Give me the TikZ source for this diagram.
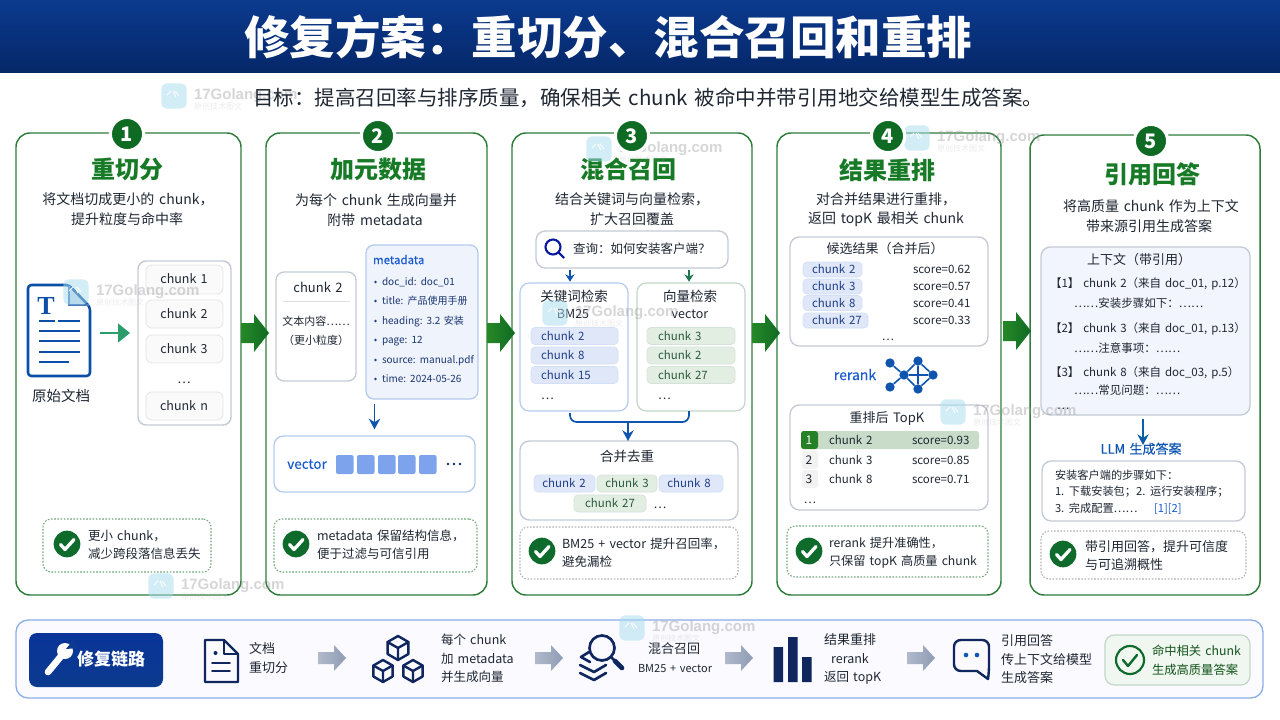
\documentclass[tikz,border=0pt]{standalone}
\usepackage{fontspec}
\setmainfont{Noto Sans CJK SC}[WordSpace=1.5]
\newfontfamily\medf{Noto Sans CJK SC}[FakeBold=0.12,WordSpace=1.5]
\newfontfamily\wmf{Liberation Sans}
\newfontfamily\srf{Liberation Serif}
\usetikzlibrary{arrows.meta,shapes.geometric}
\definecolor{navyT}{HTML}{0B3A8E}
\definecolor{navyB}{HTML}{052768}
\definecolor{cardg}{HTML}{2F7D3A}
\definecolor{titg}{HTML}{177A26}
\definecolor{badgeg}{HTML}{0F6B24}
\definecolor{chkg}{HTML}{0E6B2B}
\definecolor{ink}{HTML}{1F2733}
\definecolor{dotg}{HTML}{6FA67C}
\definecolor{gborder}{HTML}{C4CBD6}
\definecolor{bborder}{HTML}{B5CBEF}
\definecolor{gbord}{HTML}{C3D6C8}
\definecolor{bpill}{HTML}{DFE7F9}
\definecolor{gpill}{HTML}{E3EEE3}
\definecolor{btext}{HTML}{1F3F86}
\definecolor{gtext}{HTML}{2A5A3C}
\definecolor{blue1}{HTML}{0F55B0}
\definecolor{blue2}{HTML}{1A5BD0}
\definecolor{sq}{HTML}{7DA3EC}
\definecolor{meta}{HTML}{EFF3FC}
\definecolor{docblue}{HTML}{0D4EA6}
\definecolor{dark}{HTML}{10265F}
\definecolor{arrg}{HTML}{8F9CB5}
\definecolor{teala}{HTML}{2A9D6A}
\definecolor{wmico}{HTML}{A8DCEF}
\newcounter{nn}
\tikzset{
  tx/.style={inner sep=0pt,outer sep=0pt,text=ink,anchor=base},
  lf/.style={anchor=base west},
  bxs/.style={draw=gborder,rectangle,rounded corners=6pt,inner sep=0pt,outer sep=0pt,line width=.9pt},
  card/.style={bxs,draw=cardg,line width=1.1pt,rounded corners=10.5pt,fill=white},
  dotb/.style={bxs,draw=dotg,dash pattern=on 1.2pt off 1.2pt,line width=.8pt,rounded corners=6pt},
  bluepill/.style={bxs,draw=bborder!60,fill=bpill,rounded corners=3pt,line width=.5pt},
  greenpill/.style={bxs,draw=gbord!70,fill=gpill,rounded corners=3pt,line width=.5pt},
  chunkp/.style={bxs,draw=black!10,fill=black!2,rounded corners=4.5pt,line width=.6pt},
  badge/.style={circle,fill=badgeg,draw=white,line width=2.4pt,minimum size=25pt,inner sep=0pt,text=white,font=\fontsize{15pt}{15pt}\selectfont\bfseries},
  ckc/.style={circle,fill=chkg,minimum size=20pt,inner sep=0pt},
  barr/.style={-{Stealth[length=8pt,width=8.5pt]},draw=blue1,line width=1.4pt},
  icon/.style={draw=dark,line width=1.8pt,line join=round,line cap=round},
}
\newcommand{\lbl}[5][]{\stepcounter{nn}\pgfmathsetmacro{\fsz}{#4*0.75}\pgfmathsetmacro{\by}{#3+0.36*#4}%
  \node[tx,#1,font=\fontsize{\fsz pt}{\fsz pt}\selectfont] (t\arabic{nn}) at (#2,\by) {#5};}
\newcommand{\bx}[6][]{\pgfmathsetmacro{\cxx}{((#3)+(#5))/2}\pgfmathsetmacro{\cyy}{((#4)+(#6))/2}%
  \pgfmathsetmacro{\ww}{((#5)-(#3))*0.75}\pgfmathsetmacro{\hh}{((#6)-(#4))*0.75}%
  \node[bxs,#1,minimum width=\ww pt,minimum height=\hh pt] (#2) at (\cxx,\cyy) {};}
\newcommand{\ub}[5][]{\stepcounter{nn}\bx[#1]{b\arabic{nn}}{#2}{#3}{#4}{#5}}
\newcommand{\chk}[2]{\stepcounter{nn}\node[ckc] (k\arabic{nn}) at (#1,#2) {};
  \draw[white,line width=2.5pt,line cap=round,line join=round] (#1,#2) ++(-6.5,0.5) -- ++(4.5,5) -- ++(9,-10);}
\newcommand{\bigarr}[2]{\shade[left color=green!45!black!85!white,right color=badgeg]
  (#1.east |- 0,#2) ++(0,-10) -- ++(13,0) -- ++(0,-9) -- ++(15,19) -- ++(-15,19) -- ++(0,-9) -- ++(-13,0) -- cycle;}
\newcommand{\grayarr}[2]{\shade[left color=arrg!70,right color=arrg] (#1,#2) ++(0,-6) -- ++(16,0) -- ++(0,-7) -- ++(12,13) -- ++(-12,13) -- ++(0,-7) -- ++(-16,0) -- cycle;}
\newcommand{\cube}[3]{\draw[icon] (#1,#2) ++(0,-#3) -- ++(#3*.87,#3*.5) -- ++(0,#3) -- ++(-#3*.87,#3*.5) -- ++(-#3*.87,-#3*.5) -- ++(0,-#3) -- cycle;
  \draw[icon] (#1,#2) ++(-#3*.87,-#3*.5) -- ++(#3*.87,#3*.5) -- ++(#3*.87,-#3*.5) (#1,#2) -- ++(0,#3);}
\newcommand{\wm}[2]{\stepcounter{nn}\node[bxs,draw=none,fill=wmico,opacity=.5,rounded corners=4pt,minimum size=19pt] (w\arabic{nn}) at (#1,#2) {};
  \draw[white,opacity=.9,line width=.7pt] (#1,#2) ++(-7,-1) -- ++(4,-4) ++(2,0) -- ++(3,6) ++(-1,-6) -- ++(4,5);
  \lbl[lf,text=black!40,text opacity=.4]{#1+20}{#2-2}{15}{\wmf\bfseries 17Golang.com}
  \lbl[lf,text=black!35,text opacity=.22]{#1+20}{#2+11}{8}{原创技术图文}}
\begin{document}
\begin{tikzpicture}[x=0.75pt,y=-0.75pt]
\useasboundingbox (0,0) rectangle (1280,720);
\fill[white] (0,0) rectangle (1280,720);
% header
\shade[top color=navyT,bottom color=navyB] (0,0) rectangle (1280,73);
\lbl[text=white]{608}{38}{45.5}{\bfseries 修复方案：重切分、混合召回和重排}
% cards
\bx[card]{c1}{16}{133}{241}{595}
\bx[card]{c2}{266}{133}{487}{595}
\bx[card]{c3}{512}{133}{752}{595}
\bx[card]{c4}{777}{133}{1001}{595}
\bx[card]{c5}{1030}{135}{1260}{595}
\bigarr{c1}{333}\bigarr{c2}{333}\bigarr{c3}{333}\shade[left color=green!45!black!85!white,right color=badgeg]
  (1003,321) -- ++(13,0) -- ++(0,-9) -- ++(15,19) -- ++(-15,19) -- ++(0,-9) -- ++(-13,0) -- cycle;
\lbl[text=titg]{127}{170}{24}{\bfseries 重切分}
\lbl[text=titg]{378}{170}{24}{\bfseries 加元数据}
\lbl[text=titg]{628}{170}{24}{\bfseries 混合召回}
\lbl[text=titg]{887}{171}{24}{\bfseries 结果重排}
\lbl[text=titg]{1152}{175}{24}{\bfseries 引用回答}
\lbl{128}{199}{14}{将文档切成更小的 chunk，}
\lbl{127}{219}{14}{提升粒度与命中率}
\lbl{376}{200}{14}{为每个 chunk 生成向量并}
\lbl{375}{220}{14}{附带 metadata}
\lbl{632}{199}{14}{结合关键词与向量检索，}
\lbl{632}{219}{14}{扩大召回覆盖}
\lbl{886}{199}{14}{对合并结果进行重排，}
\lbl{886}{218}{14}{返回 topK 最相关 chunk}
\lbl{1151}{206}{14}{将高质量 chunk 作为上下文}
\lbl{1149}{226}{14}{带来源引用生成答案}
% card 1
\stepcounter{nn}
\bx[draw=none,rounded corners=0pt]{doc}{28}{285}{90}{376}
\fill[docblue!22] (69,287) -- (69,305) -- (88,305) -- cycle;
\draw[docblue,line width=1.9pt,rounded corners=2.5pt,line join=round] (28,285) -- (69,285) -- (90,307) -- (90,376) -- (28,376) -- cycle;
\draw[docblue!75,line width=1pt] (69,286) -- (69,305) -- (89,305);
\lbl[text=docblue]{46}{305}{26}{\srf\bfseries T}
\draw[docblue,line width=1.9pt] (39,321) -- (55,321) (58,321) -- (80,321) (39,331) -- (80,331) (39,341) -- (80,341) (39,352) -- (80,352) (39,362) -- (69,362);
\lbl{61}{396}{14.5}{原始文档}
\bx[line width=1.1pt,fill=white]{clist}{138}{261}{231}{425}
\ub[chunkp]{146}{265}{223}{294}\lbl{184}{279}{12.5}{chunk 1}
\ub[chunkp]{146}{300}{223}{328}\lbl{184}{314}{12.5}{chunk 2}
\ub[chunkp]{146}{335}{223}{363}\lbl{184}{349}{12.5}{chunk 3}
\lbl{184}{379}{12.5}{…}
\ub[chunkp]{146}{392}{223}{420}\lbl{184}{406}{12.5}{chunk n}
\draw[draw=teala,line width=2pt,-{Triangle[length=9pt,width=14pt]},shorten <=7.5pt,shorten >=6pt] (doc.east |- 0,333) -- (clist.west |- 0,333);
\bx[dotb]{k1}{43}{519}{211}{572}
\chk{67}{544}
\lbl[lf]{88}{536}{12.5}{更小 chunk，}
\lbl[lf]{88}{554}{12.5}{减少跨段落信息丢失}
% card 2
\bx[line width=1pt,fill=white]{ch2}{276}{272}{356}{381}
\lbl{318}{288}{13}{chunk 2}
\draw[black!12,line width=.7pt] (283,301) -- (350,301);
\lbl{316}{322}{11}{文本内容……}
\lbl{316}{341}{11}{（更小粒度）}
\bx[draw=bborder,fill=meta,line width=1pt]{mt}{366}{245}{478}{399}
\lbl[lf,text=blue2]{373}{260}{11.5}{\medf metadata}
\foreach \yy/\ss in {282/doc\_id: doc\_01,301/title: 产品使用手册,321/heading: 3.2 安装,340/page: 12,360/source: manual.pdf,379/time: 2024-05-26}{
  \fill[btext] (375.5,\yy) circle (1.4);
  \lbl[lf,text=btext!85!black]{382}{\yy}{10}{\ss}
}
\bx[draw=bborder,line width=1pt,rounded corners=7pt]{vecb}{274}{436}{475}{492}
\draw[barr,shorten <=4pt,shorten >=5pt] (vecb.north |- mt.south) -- (vecb.north);
\lbl[text=blue2]{307}{464}{13.5}{\medf vector}
\foreach \xx in {336,357,378,398,419}{\fill[sq,rounded corners=1.5pt] (\xx,455) rectangle ++(17.5,19);}
\foreach \xx in {448,454,460}{\fill[dark] (\xx,464) circle (1.3);}
\bx[dotb]{k2}{274}{519}{477}{572}
\chk{296}{544}
\lbl[lf]{317}{536}{12.5}{metadata 保留结构信息，}
\lbl[lf]{317}{554}{12.5}{便于过滤与可信引用}
% card 3
\bx[line width=1pt,rounded corners=7pt]{qy}{536}{231}{728}{268}
\draw[dark!60!blue,line width=1.6pt] (553,247) circle (7.5) (558.5,252.5) -- (564,258);
\lbl[lf]{573}{249}{12.5}{查询：如何安装客户端？}
\bx[draw=bborder,rounded corners=7pt]{kw}{520}{283}{628}{411}
\bx[draw=gbord,rounded corners=7pt]{vs}{637}{283}{745}{411}
\draw[barr,-{Stealth[length=5.5pt,width=7pt]},shorten >=1pt] ([xshift=-3pt]kw.north |- qy.south) ++(0,2) -- ([xshift=-3pt]kw.north);
\draw[barr,draw=teala!75!black,-{Stealth[length=5.5pt,width=7pt]},shorten >=1pt] ([xshift=-1.5pt]vs.north |- qy.south) ++(0,2) -- ([xshift=-1.5pt]vs.north);
\lbl{574}{297}{13.5}{关键词检索}
\lbl{573}{314}{12.5}{BM25}
\lbl{690}{297}{13.5}{向量检索}
\lbl{690}{314}{12.5}{vector}
\foreach \yy/\ss in {336/chunk 2,355.5/chunk 8,375/chunk 15}{
  \ub[bluepill]{531}{\yy-8.5}{618}{\yy+8.5}\lbl[lf,text=btext]{541}{\yy}{11.5}{\ss}}
\foreach \yy/\ss in {336/chunk 3,355.5/chunk 2,375/chunk 27}{
  \ub[greenpill]{647}{\yy-8.5}{735}{\yy+8.5}\lbl[lf,text=gtext]{658}{\yy}{11.5}{\ss}}
\lbl[lf]{541}{395}{12}{…}
\lbl[lf]{658}{395}{12}{…}
\bx[rounded corners=7pt,line width=1pt]{mg}{520}{441}{738}{520}
\coordinate (mj) at (628,422);
\draw[blue1,line width=1.3pt,rounded corners=5pt] ([xshift=-3pt]kw.south) ++(0,2) |- (mj) -| ([xshift=-1.5pt]vs.south);
\draw[barr] (mj) ++(0,-1) -- (mj |- mg.north);
\lbl{627}{457}{13.5}{合并去重}
\ub[bluepill]{534}{475}{595}{492}\lbl[text=btext]{564}{483.5}{11.5}{chunk 2}
\ub[greenpill]{597}{475}{657}{492}\lbl[text=gtext]{627}{483.5}{11.5}{chunk 3}
\ub[bluepill]{659}{475}{723}{492}\lbl[text=btext]{689}{483.5}{11.5}{chunk 8}
\ub[greenpill]{574}{495}{646}{512}\lbl[text=gtext]{610}{503.5}{11.5}{chunk 27}
\lbl{660}{504}{12}{…}
\bx[dotb,draw=black!30]{k3}{520}{527}{738}{579}
\chk{542}{551}
\lbl[lf]{562}{544}{12.5}{BM25 + vector 提升召回率，}
\lbl[lf]{562}{562}{12.5}{避免漏检}
% card 4
\bx[rounded corners=7pt,line width=1pt]{cand}{790}{237}{988}{346}
\lbl{885}{249}{13}{候选结果（合并后）}
\foreach \yy/\ss/\xe/\sc in {269.5/chunk 2/862/0.62,286.5/chunk 3/862/0.57,303/chunk 8/862/0.41,320.5/chunk 27/868/0.33}{
  \ub[bluepill]{803}{\yy-7.5}{\xe}{\yy+7.5}\lbl[lf,text=btext]{812}{\yy}{11.5}{\ss}
  \lbl[lf]{913}{\yy}{11.5}{score=\sc}}
\lbl{888}{336}{11.5}{…}
\lbl[text=blue2]{855}{375}{14}{\medf rerank}
\foreach \nme/\xx/\yy in {na/890/363,nb/918/361,nc/904/375,nd/933/375,ne/890/387,nf/918/389}{
  \node[circle,fill=blue1,minimum size=7pt,inner sep=0pt] (\nme) at (\xx,\yy) {};}
\draw[blue1,line width=1.2pt] (na)--(nc) (ne)--(nc) (nc)--(nb) (nc)--(nd) (nc)--(nf) (nb)--(nd) (nd)--(nf) (nb)--(nf);
\bx[rounded corners=7pt,line width=1pt]{topk}{790}{405}{988}{510}
\lbl{887}{418}{13}{重排后 TopK}
\ub[draw=none,fill=green!20!gray!35,rounded corners=2pt]{801}{431}{979}{449}
\ub[draw=none,fill=green!50!black!70!gray,rounded corners=2pt]{801}{431}{818}{449}
\lbl[text=white]{809}{440}{12}{1}
\ub[draw=none,fill=black!5,rounded corners=2pt]{802}{451}{818}{469}\lbl{809}{460}{12}{2}
\ub[draw=none,fill=black!5,rounded corners=2pt]{802}{470}{818}{488}\lbl{809}{479}{12}{3}
\foreach \yy/\ss/\sc in {440/chunk 2/0.93,460/chunk 3/0.85,479/chunk 8/0.71}{
  \lbl[lf]{829}{\yy}{11.5}{\ss}\lbl[lf]{912}{\yy}{11.5}{score=\sc}}
\lbl{810}{499}{11.5}{…}
\bx[dotb]{k4}{787}{526}{988}{577}
\chk{809}{551}
\lbl[lf]{829}{543}{12.2}{rerank 提升准确性，}
\lbl[lf]{829}{561}{12.2}{只保留 topK 高质量 chunk}
% card 5
\bx[fill=meta!80!white,rounded corners=7pt,line width=1pt]{ctx}{1041}{247}{1250}{415}
\lbl{1139}{260}{13}{上下文（带引用）}
\lbl[lf]{1050}{283}{11.5}{【1】 chunk 2（来自 doc\_01, p.12）}
\lbl[lf]{1074}{303}{11.5}{……安装步骤如下：……}
\lbl[lf]{1050}{328}{11.5}{【2】 chunk 3（来自 doc\_01, p.13）}
\lbl[lf]{1074}{348}{11.5}{……注意事项：……}
\lbl[lf]{1050}{372}{11.5}{【3】 chunk 8（来自 doc\_03, p.5）}
\lbl[lf]{1074}{390}{11.5}{……常见问题：……}
\lbl[lf]{1057}{405}{11.5}{…}
\bx[rounded corners=7pt,line width=1pt]{ans}{1042}{461}{1245}{521}
\lbl[text=blue1]{1141}{449}{13}{\medf LLM 生成答案}
\coordinate (as) at (1143,415);\coordinate (ae) at (1143,445);
\draw[barr,draw=blue1!80!teal,shorten <=3pt] (as) -- (ae);
\lbl[lf]{1055}{475}{11.2}{安装客户端的步骤如下：}
\lbl[lf]{1055}{491}{11.2}{1. 下载安装包；2. 运行安装程序；}
\lbl[lf]{1055}{508}{11.2}{3. 完成配置……}
\lbl[lf,text=blue2]{1154}{508}{11.2}{[1][2]}
\bx[dotb,draw=black!30]{k5}{1041}{531}{1246}{579}
\chk{1063}{554}
\lbl[lf]{1085}{547}{13}{带引用回答，提升可信度}
\lbl[lf]{1085}{565}{13}{与可追溯概性}
% bottom bar
\bx[draw=blue2!50,fill=blue!2,line width=1pt,rounded corners=9pt]{bar}{16}{620}{1263}{698}
\shade[top color=navyT!90!blue,bottom color=navyT,rounded corners=6pt] (29,633) rectangle (163,687);
\draw[white,line width=5pt,line cap=round] (48,672) -- (62,655);
\fill[white] (65,651) circle (8);
\fill[navyT] (66,649) -- (74,639) -- (78,648) -- cycle;
\lbl[lf,text=white]{77}{659}{17}{\bfseries 修复链路}
\draw[icon] (205,640) -- (224,640) -- (238,654) -- (238,682) -- (205,682) -- cycle;
\draw[icon,line width=1.4pt] (224,640) -- (224,654) -- (238,654) (212,663) -- (230,663) (212,671) -- (230,671);
\fill[dark] (215.5,653) circle (2);
\lbl[lf]{249}{649}{13}{文档}
\lbl[lf]{249}{668}{13}{重切分}
\grayarr{318}{658}
\cube{398}{648}{12}\cube{383}{671}{11}\cube{413}{671}{11}
\lbl[lf]{441}{640}{12.5}{每个 chunk}
\lbl[lf]{441}{659}{12.5}{加 metadata}
\lbl[lf]{441}{677}{12.5}{并生成向量}
\grayarr{535}{658}
\draw[icon,line width=2pt] (602,648) circle (12.5) (611,657) -- (614,660);
\draw[dark,line width=3.5pt,line cap=round] (615,661) -- (622,668);
\draw[icon,line width=2pt] (589,652) -- (581,657) -- (590,662) (580,665) -- (594,672) -- (606,665) (580,673) -- (594,680) -- (606,673);
\lbl[lf]{648}{649}{13}{混合召回}
\lbl[lf]{638}{669}{11}{BM25 + vector}
\grayarr{725}{658}
\fill[dark] (773.5,647) rectangle (783,682) (788,637) rectangle (797.5,682) (802,657) rectangle (811.5,682);
\lbl[lf]{824}{640}{13}{结果重排}
\lbl{850}{659}{12.5}{rerank}
\lbl[lf]{824}{677}{12.5}{返回 topK}
\grayarr{907}{658}
\draw[icon,rounded corners=5pt] (972,640) -- (989,640) -- (989,672) [sharp corners] -- (988,679) -- (977,671) [rounded corners=5pt] -- (954,671) -- (954,640) -- cycle;
\fill[blue1] (966,655) circle (2.3) (977,655) circle (2.3);
\lbl[lf]{1001}{641}{13}{引用回答}
\lbl[lf]{1001}{660}{13}{传上下文给模型}
\lbl[lf]{1001}{678}{13}{生成答案}
\bx[draw=gbord,fill=gpill!55!white,rounded corners=7pt]{res}{1105}{635}{1250}{685}
\draw[chkg,line width=1.6pt] (1130,660) circle (14);
\draw[chkg,line width=1.8pt,line cap=round,line join=round] (1123,660) -- (1128,666) -- (1137,655);
\lbl[lf,text=gtext!70!green!60!black]{1152}{651}{12.3}{命中相关 chunk}
\lbl[lf,text=gtext!70!green!60!black]{1152}{670}{12.3}{生成高质量答案}
% watermarks, faint over the content
\wm{174}{96}
\wm{76}{292}
\wm{161}{586}
\wm{599}{149}
\wm{555}{313}
\wm{917}{138}
\wm{953}{412}
\wm{632}{628}
% drawn over the watermarks
\lbl[lf]{253}{98}{20.5}{目标：提高召回率与排序质量，确保相关 chunk 被命中并带引用地交给模型生成答案。}
\node[badge] (n1) at (127,134) {1};
\node[badge] (n2) at (378,136) {2};
\node[badge] (n3) at (632,136) {3};
\node[badge] (n4) at (888,136) {4};
\node[badge] (n5) at (1151,141) {5};
\end{tikzpicture}
\end{document}
